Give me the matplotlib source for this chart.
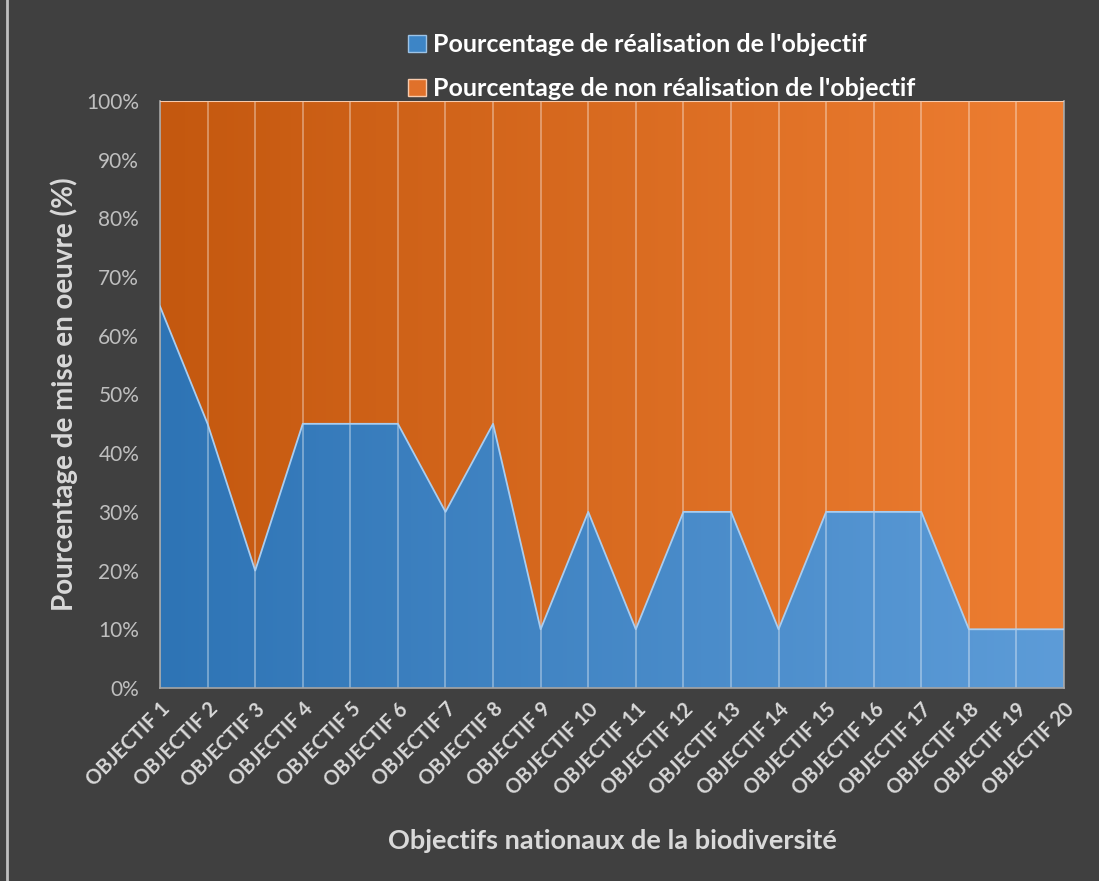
import numpy as np
import matplotlib
matplotlib.use('Agg')
import matplotlib.pyplot as plt
from matplotlib.colors import LinearSegmentedColormap
from matplotlib.patches import Patch
from matplotlib.lines import Line2D

'''data'''
objectifs = ['OBJECTIF %d' % i for i in range(1, 21)]
realisation = [65, 45, 20, 45, 45, 45, 30, 45, 10, 30, 10, 30, 30, 10, 30, 30, 30, 10, 10, 10]
non_realisation = [100 - v for v in realisation]
yticks = [0, 10, 20, 30, 40, 50, 60, 70, 80, 90, 100]

bg = '#404040'
txt = '#D9D9D9'
plt.rcParams['font.family'] = ['Lato', 'DejaVu Sans']

fig = plt.figure(figsize=(10.99, 8.81), dpi=100, facecolor=bg)
ax = fig.add_axes([0.1456, 0.2191, 0.8226, 0.6663])
ax.set_facecolor(bg)

x = np.arange(len(objectifs))
real = np.array(realisation)
non = np.array(non_realisation)

blue_cmap = LinearSegmentedColormap.from_list('b', ['#2E74B5', '#5D9CD8'])
orange_cmap = LinearSegmentedColormap.from_list('o', ['#C4580F', '#EE7E32'])
grad = np.linspace(0, 1, 256).reshape(1, -1)

def gradient_fill(y0, y1, cmap):
	poly = ax.fill_between(x, y0, y1, facecolor='none', edgecolor='none')
	im = ax.imshow(grad, cmap=cmap, aspect='auto', extent=[x[0], x[-1], 0, 100],
		origin='lower', zorder=1)
	path = poly.get_paths()[0]
	im.set_clip_path(path, transform=ax.transData)

gradient_fill(0, real, blue_cmap)
gradient_fill(real, real + non, orange_cmap)

ax.vlines(x, 0, 100, colors='white', alpha=0.4, lw=1.2, zorder=2)
ax.plot(x, real, color='#A9CDF0', lw=1.3, zorder=3)
ax.plot(x, real + non, color='#F8CBAD', lw=1.5, zorder=3)

ax.set_xlim(x[0], x[-1])
ax.set_ylim(0, 100)
ax.set_yticks(yticks)
ax.set_yticklabels(['%d%%' % t for t in yticks], fontsize=15, color='#BFBFBF')
ax.set_xticks(x)
ax.set_xticklabels(objectifs, rotation=45, ha='right', rotation_mode='anchor',
	fontsize=14.5, fontweight='bold', color=txt)
ax.tick_params(length=0, pad=8)
ax.tick_params(axis='y', pad=15)

for s in ['left', 'right', 'bottom']:
	ax.spines[s].set_color('#A6A6A6')
	ax.spines[s].set_linewidth(1.2)
ax.spines['top'].set_visible(False)

ax.set_ylabel('Pourcentage de mise en oeuvre (%)', fontsize=20, fontweight='bold',
	color=txt, labelpad=6)
ax.set_xlabel('Objectifs nationaux de la biodiversité', fontsize=19.5, fontweight='bold',
	color=txt, labelpad=22)

handles = [Patch(facecolor='#3D85C6', edgecolor='#9DC3E6'),
	Patch(facecolor='#E0712A', edgecolor='#F8CBAD')]
labels = ["Pourcentage de réalisation de l'objectif",
	"Pourcentage de non réalisation de l'objectif"]
leg = fig.legend(handles, labels, loc='upper left', bbox_to_anchor=(0.351, 0.988),
	frameon=False, fontsize=18, handlelength=0.7, handleheight=0.7,
	handletextpad=0.3, labelspacing=0.85)
for t in leg.get_texts():
	t.set_color('white')
	t.set_fontweight('bold')

fig.add_artist(Line2D([0.006, 0.006], [0.0, 1.0], color='#BFBFBF', lw=2))

fig.savefig('out.png', dpi=100, facecolor=bg)
